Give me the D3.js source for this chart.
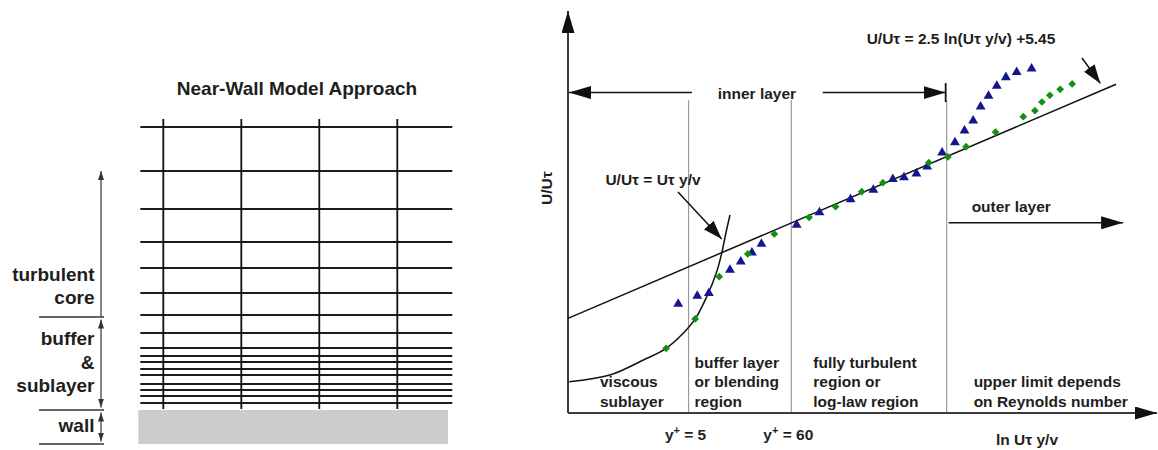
<!DOCTYPE html>
<html>
<head>
<meta charset="utf-8">
<script src="https://cdn.jsdelivr.net/npm/d3@7"></script>
<style>
  body { margin: 0; background: #fff; }
  text { font-family: "Liberation Sans", Arial, sans-serif; font-weight: bold; fill: #1e1e1e; }
</style>
</head>
<body>
<script>
// ---- left panel: near-wall mesh ----
// horizontal mesh lines, as height above the wall
var meshRows = [7, 14, 20, 26, 35, 41, 48, 54, 62, 77, 95, 117, 142, 168, 201, 239, 283];
// vertical mesh lines (column index)
var meshCols = [1, 2, 3, 4];
// zones beside the mesh: [bottom, top] height and their labels
var zoneEdges = [[93, 239], [0, 93], [-34, 0]];
var zoneNames = [["turbulent", "core"], ["buffer", "&", "sublayer"], ["wall"]];

// ---- right panel: law of the wall, x = ln(y+), y = U+ ----
var bandEdges = [1.61, 4.09, 7.84];          // y+ = 5, y+ = 60, outer-layer start
var bandLabels = [
  ["viscous", "sublayer"],
  ["buffer layer", "or blending", "region"],
  ["fully turbulent", "region or", "log-law region"],
  ["upper limit depends", "on Reynolds number"]
];
var edgeTicks = ["5", "60"];

// measured points (blue triangles)
var triX = [1.36, 1.82, 2.10, 2.61, 2.87, 3.14, 3.37, 4.22, 4.77, 5.52, 6.07, 6.54, 6.81, 7.11, 7.37, 7.73, 8.04, 8.27, 8.48, 8.66, 8.85, 9.05, 9.27, 9.53, 9.89];
var triY = [4.23, 5.36, 5.74, 9.03, 10.20, 11.48, 12.70, 15.39, 17.18, 19.02, 20.34, 21.85, 22.10, 22.64, 23.63, 25.61, 27.05, 28.72, 30.13, 32.11, 33.62, 35.03, 36.26, 36.97, 37.48];
// measured points (green diamonds)
var diaX = [1.07, 1.77, 2.35, 3.04, 3.68, 4.52, 5.16, 5.79, 6.30, 7.41, 7.87, 8.31, 9.02, 9.69, 9.97, 10.14, 10.33, 10.58, 10.87];
var diaY = [-2.04, 2.11, 8.08, 11.29, 14.12, 16.48, 17.98, 20.10, 21.37, 24.19, 25.00, 26.46, 28.53, 30.70, 31.54, 32.77, 33.72, 34.57, 35.32];
// viscous sublayer curve
var viscX = [-1.27, -0.29, 0.52, 1.07, 1.48, 1.77, 2.05, 2.29, 2.41, 2.51, 2.61];
var viscY = [-6.76, -5.81, -3.69, -2.04, 0.08, 2.11, 5.26, 8.79, 11.39, 14.22, 16.80];
// log law line end points
var logX = [-1.3, 11.93];
var logY = [2.2, 35.28];

var svg = d3.select("body").append("svg").attr("width", 1158).attr("height", 450);
var defs = svg.append("defs");

function marker(id, len, half, color) {
  defs.append("marker").attr("id", id)
    .attr("markerUnits", "userSpaceOnUse")
    .attr("viewBox", [0, 0, len, half * 2])
    .attr("refX", len).attr("refY", half)
    .attr("markerWidth", len).attr("markerHeight", half * 2)
    .attr("orient", "auto-start-reverse")
    .append("path").attr("d", "M0,0L" + len + "," + half + "L0," + half * 2 + "Z").attr("fill", color);
}
marker("big", 22, 6.5, "#111");
marker("mid", 19, 6.5, "#111");
marker("small", 9, 3, "#333");

// ================= left panel =================
var colX = d3.scaleLinear().domain([0, 5]).range([85.3, 475.3]);
var meshY = d3.scaleLinear().domain([0, 300]).range([410, 110]);
var left = svg.append("g");

left.append("text").attr("x", 297).attr("y", 95).attr("text-anchor", "middle")
  .style("font-size", "19px").text("Near-Wall Model Approach");

left.append("rect")
  .attr("x", colX(0.68)).attr("y", meshY(0))
  .attr("width", colX(4.65) - colX(0.68)).attr("height", meshY(-34) - meshY(0))
  .attr("fill", "#cccccc");

left.selectAll(".row").data(meshRows).enter().append("line").attr("class", "row")
  .attr("x1", colX(0.705)).attr("x2", colX(4.705))
  .attr("y1", d => meshY(d)).attr("y2", d => meshY(d))
  .attr("stroke", "#1c1c1c").attr("stroke-width", 1.8);

left.selectAll(".col").data(meshCols).enter().append("line").attr("class", "col")
  .attr("x1", d => colX(d)).attr("x2", d => colX(d))
  .attr("y1", meshY(291)).attr("y2", meshY(1))
  .attr("stroke", "#111").attr("stroke-width", 1.8);

// zone separators
var sepLevels = [93, 0, -34];
left.selectAll(".sep").data(sepLevels).enter().append("line").attr("class", "sep")
  .attr("x1", 39).attr("x2", 104)
  .attr("y1", d => meshY(d)).attr("y2", d => meshY(d))
  .attr("stroke", "#333").attr("stroke-width", 1.6);

// zone arrows
zoneEdges.forEach(function (z, i) {
  var ln = left.append("line")
    .attr("x1", 101).attr("x2", 101)
    .attr("y1", meshY(z[0]) - (i === 0 ? 0 : 2.5)).attr("y2", meshY(z[1]) + (i === 0 ? 0 : 2.5))
    .attr("stroke", "#444").attr("stroke-width", 1.3)
    .attr("marker-end", "url(#small)");
  if (i > 0) ln.attr("marker-start", "url(#small)");
});

// zone labels
var lastBase = [13, 18, 12];
zoneNames.forEach(function (names, i) {
  var base = meshY(zoneEdges[i][0]) - lastBase[i];
  names.forEach(function (s, j) {
    left.append("text").attr("x", 94.5)
      .attr("y", base - (names.length - 1 - j) * 23.5)
      .attr("text-anchor", "end").style("font-size", "19px").text(s);
  });
});

// ================= right panel =================
var x = d3.scaleLinear().domain([-1.3, 12.7]).range([568, 1148]);
var y = d3.scaleLinear().domain([-11.18, 45.63]).range([413, 11]);
var right = svg.append("g").style("font-size", "15.5px");

// region boundaries
right.selectAll(".edge").data(bandEdges).enter().append("line").attr("class", "edge")
  .attr("x1", d => x(d)).attr("x2", d => x(d))
  .attr("y1", y(33.0)).attr("y2", y(-11.18))
  .attr("stroke", "#9a9a9a").attr("stroke-width", 1.2);

// axes
right.append("line").attr("x1", x(-1.3)).attr("x2", x(-1.3))
  .attr("y1", y(-11.18)).attr("y2", y(45.63))
  .attr("stroke", "#3a3a3a").attr("stroke-width", 2).attr("marker-end", "url(#big)");
right.append("line").attr("x1", x(-1.3)).attr("x2", 1157)
  .attr("y1", y(-11.18)).attr("y2", y(-11.18))
  .attr("stroke", "#3a3a3a").attr("stroke-width", 2).attr("marker-end", "url(#big)");

right.append("text")
  .attr("transform", "translate(552," + y(20.6) + ") rotate(-90)")
  .attr("text-anchor", "middle").text("U/Uτ");
right.append("text").attr("x", 1027).attr("y", 445).attr("text-anchor", "middle").text("ln Uτ y/v");

// y+ labels under the first two boundaries
edgeTicks.forEach(function (v, i) {
  var t = right.append("text").attr("x", x(bandEdges[i]) - 3).attr("y", 439.5).attr("text-anchor", "middle");
  t.append("tspan").text("y");
  t.append("tspan").attr("dy", -6).style("font-size", "11px").text("+");
  t.append("tspan").attr("dy", 6).text(" = " + v);
});

// region labels
var bandStart = [x(-1.3) + 32, x(bandEdges[0]) + 6, x(bandEdges[1]) + 22, x(bandEdges[2]) + 27];
bandLabels.forEach(function (lines, i) {
  lines.forEach(function (s, j) {
    right.append("text").attr("x", bandStart[i])
      .attr("y", 406.7 - (lines.length - 1 - j) * 19.5).text(s);
  });
});

// inner / outer layer arrows
var innerY = y(34.1);
right.append("line").attr("x1", x(1.69)).attr("x2", x(-1.3) + 1)
  .attr("y1", innerY).attr("y2", innerY)
  .attr("stroke", "#111").attr("stroke-width", 1.5).attr("marker-end", "url(#big)");
right.append("line").attr("x1", x(4.85)).attr("x2", x(bandEdges[2]) - 1)
  .attr("y1", innerY).attr("y2", innerY)
  .attr("stroke", "#111").attr("stroke-width", 1.5).attr("marker-end", "url(#big)");
right.append("line").attr("x1", x(bandEdges[2]) - 1).attr("x2", x(bandEdges[2]) - 1)
  .attr("y1", innerY - 9.5).attr("y2", innerY + 9.5)
  .attr("stroke", "#111").attr("stroke-width", 1.8);
right.append("text").attr("x", x(3.26)).attr("y", innerY + 6.5).attr("text-anchor", "middle").text("inner layer");

var outerY = y(15.7);
right.append("line").attr("x1", x(bandEdges[2]) + 2).attr("x2", x(12.1))
  .attr("y1", outerY).attr("y2", outerY)
  .attr("stroke", "#111").attr("stroke-width", 1.5).attr("marker-end", "url(#big)");
right.append("text").attr("x", x(9.4)).attr("y", outerY - 11).attr("text-anchor", "middle").text("outer layer");

// log law and viscous curve
var lineGen = d3.line().x(d => x(d[0])).y(d => y(d[1]));
right.append("path").datum(d3.zip(logX, logY)).attr("d", lineGen)
  .attr("fill", "none").attr("stroke", "#111").attr("stroke-width", 1.5);
right.append("path").datum(d3.zip(viscX, viscY)).attr("d", lineGen.curve(d3.curveCatmullRom))
  .attr("fill", "none").attr("stroke", "#111").attr("stroke-width", 1.5);

// equation callouts
right.append("text").attr("x", 653).attr("y", 185).attr("text-anchor", "middle").text("U/Uτ = Uτ y/v");
right.append("line").attr("x1", 678).attr("y1", 192).attr("x2", x(2.41)).attr("y2", y(13.4))
  .attr("stroke", "#111").attr("stroke-width", 1.5).attr("marker-end", "url(#mid)");
right.append("text").attr("x", 961).attr("y", 44).attr("text-anchor", "middle").text("U/Uτ = 2.5 ln(Uτ y/v) +5.45");
right.append("line").attr("x1", 1082).attr("y1", 58).attr("x2", x(11.55)).attr("y2", y(35.4))
  .attr("stroke", "#111").attr("stroke-width", 1.5).attr("marker-end", "url(#mid)");

// data markers
right.selectAll(".tri").data(d3.zip(triX, triY)).enter().append("path").attr("class", "tri")
  .attr("d", d3.symbol(d3.symbolTriangle, 42))
  .attr("transform", d => "translate(" + x(d[0]) + "," + y(d[1]) + ")")
  .attr("fill", "#16168c");
right.selectAll(".dia").data(d3.zip(diaX, diaY)).enter().append("path").attr("class", "dia")
  .attr("d", d3.symbol(d3.symbolSquare, 30))
  .attr("transform", d => "translate(" + x(d[0]) + "," + y(d[1]) + ") rotate(45)")
  .attr("fill", "#12900f");
</script>
</body>
</html>
